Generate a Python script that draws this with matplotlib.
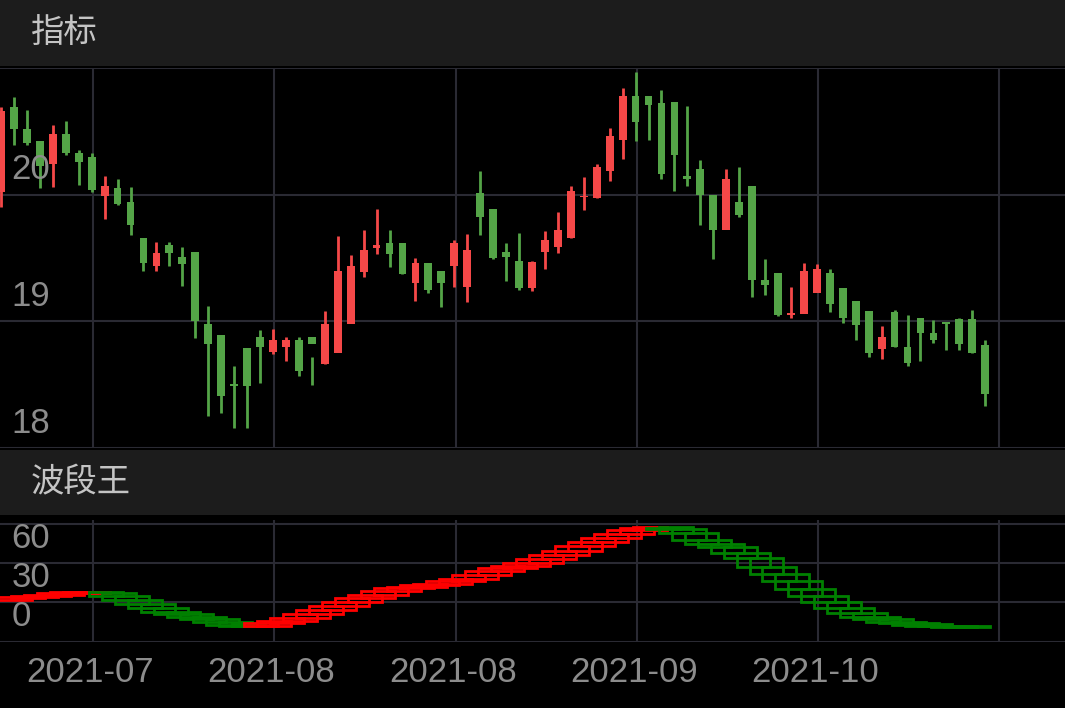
import matplotlib
matplotlib.use("Agg")
import matplotlib.pyplot as plt
from matplotlib.patches import Rectangle
from matplotlib.transforms import blended_transform_factory

# candle data (open, high, low, close)
opens  = [20.02,20.69,20.52,20.42,20.24,20.48,20.33,20.30,19.99,20.05,19.94,19.66,19.44,19.60,19.51,19.55,18.98,18.89,18.50,18.79,18.88,18.76,18.80,18.85,18.88,18.66,18.75,18.98,19.39,19.58,19.62,19.62,19.30,19.46,19.40,19.44,19.27,20.01,19.89,19.55,19.48,19.26,19.55,19.59,19.66,19.98,19.97,20.19,20.43,20.78,20.78,20.72,20.73,20.15,20.20,20.00,19.72,19.94,20.07,19.33,19.38,19.05,19.06,19.22,19.38,19.26,19.16,19.08,18.78,19.07,18.80,19.03,18.91,18.99,19.02,19.02,18.81]
closes = [20.66,20.52,20.41,20.23,20.48,20.33,20.26,20.04,20.07,19.93,19.76,19.46,19.54,19.54,19.45,19.00,18.82,18.41,18.49,18.49,18.80,18.85,18.85,18.61,18.82,18.98,19.40,19.44,19.56,19.60,19.53,19.37,19.46,19.25,19.30,19.62,19.56,19.82,19.50,19.51,19.26,19.47,19.64,19.72,20.03,19.99,20.22,20.46,20.78,20.57,20.71,20.16,20.31,20.12,20.00,19.72,20.12,19.84,19.33,19.29,19.05,19.06,19.40,19.41,19.14,19.03,18.97,18.75,18.88,18.80,18.67,18.91,18.85,18.98,18.82,18.75,18.43]
highs  = [20.69,20.77,20.67,20.42,20.55,20.58,20.35,20.33,20.15,20.12,20.06,19.66,19.63,19.63,19.59,19.47,19.12,18.79,18.65,18.79,18.93,18.94,18.88,18.88,18.72,19.08,19.67,19.52,19.72,19.89,19.72,19.62,19.50,19.46,19.40,19.64,19.69,20.19,19.89,19.62,19.70,19.48,19.71,19.86,20.07,20.14,20.24,20.53,20.84,20.97,20.74,20.83,20.48,20.70,20.27,19.89,20.20,20.22,19.87,19.49,19.33,19.27,19.46,19.45,19.41,19.19,19.12,19.05,18.96,19.09,19.05,18.97,19.01,18.99,19.03,19.09,18.85]
lows   = [19.90,20.39,20.39,20.05,20.06,20.31,20.08,20.02,19.81,19.92,19.68,19.40,19.40,19.44,19.28,18.87,18.25,18.28,18.16,18.16,18.51,18.74,18.69,18.57,18.50,18.66,18.98,19.29,19.35,19.53,19.43,19.37,19.16,19.22,19.11,19.27,19.15,19.68,19.49,19.32,19.25,19.24,19.41,19.54,19.66,19.88,19.97,20.11,20.28,20.42,20.43,20.12,20.03,20.07,19.76,19.49,19.82,19.82,19.19,19.21,19.04,19.03,19.10,19.26,19.07,18.99,18.85,18.72,18.70,18.80,18.65,18.69,18.83,18.77,18.77,18.75,18.33]

# wave indicator value per candle
wave = [32,33,34,35,36,37,38,38,37,35,32,29,26,23,21,19,17,15,13,12,12,14,16,18,21,24,27,30,33,36,39,41,42,43,44,46,48,51,54,56,58,60,63,66,69,73,76,79,82,85,87,88,86,83,78,75,72,68,64,57,52,46,40,35,30,26,22,19,17,15,14,13,12,12,11,11,11]

tick_pos = [7.1, 21.1, 35.1, 49.1, 63.1, 77.1]
tick_labels = ["2021-07", "2021-08", "2021-08", "2021-09", "2021-10", ""]
top_yticks = [18, 19, 20, 21]
top_ylabels = ["18", "19", "20", ""]
bot_yticks = [0, 30, 60, 90]
bot_ylabels = ["0", "30", "60", ""]

UP = "#f54848"
DN = "#54a447"
GRID = "#2a2a33"
TXT = "#8c8c8c"

W, H = 1065, 708
fig = plt.figure(figsize=(W/100, H/100), dpi=100, facecolor="black")

def fr(top, bottom):
    return (H-bottom)/H, (bottom-top)/H

# header bars
for top, bot, title in [(0, 66, "指标"), (450, 515, "波段王")]:
    b, h = fr(top, bot)
    hax = fig.add_axes([0, b, 1, h])
    hax.set_facecolor("#1c1c1c")
    hax.set_xticks([]); hax.set_yticks([])
    for s in hax.spines.values():
        s.set_visible(False)
    hax.text(0.029, 0.5, title, transform=hax.transAxes, va="center", ha="left",
             fontsize=24, color="#c4c4c4", family=["Noto Sans CJK SC", "DejaVu Sans"])

xlim = (-0.08, 82.16)
b, h = fr(68, 448)
ax = fig.add_axes([0, b, 1, h])
b2, h2 = fr(520, 642)
ax2 = fig.add_axes([0, b2, 1, h2])

for a in (ax, ax2):
    a.set_facecolor("black")
    a.set_xlim(*xlim)
    a.set_xticks(tick_pos)
    a.grid(True, color=GRID, lw=1.5)
    a.tick_params(length=0, labelleft=False, labelbottom=False)
    for s in a.spines.values():
        s.set_visible(False)

ax.set_ylim(18, 21)
ax.set_yticks(top_yticks)
ax2.set_ylim(-0.3, 93)
ax2.set_yticks(bot_yticks)

# candles
for i in range(len(opens)):
    o, c, hi, lo = opens[i], closes[i], highs[i], lows[i]
    col = UP if c >= o else DN
    ax.vlines(i, lo, hi, color=col, lw=2, zorder=3)
    bh = max(abs(c - o), 0.012)
    ax.add_patch(Rectangle((i - 0.3, min(o, c)), 0.6, bh, color=col, lw=0, zorder=3))

# wave boxes
n = len(wave)
for i in range(1, n - 1):
    y0, y1 = wave[i - 1], wave[i + 1]
    if i < 8:
        col = "#ff0000"
    elif i < 20:
        col = "#008000"
    elif i < 51:
        col = "#ff0000"
    else:
        col = "#008000"
    ax2.add_patch(Rectangle((i - 1.2, min(y0, y1)), 2.6, max(abs(y1 - y0), 1.2),
                            fill=False, ec=col, lw=2, zorder=3))

# y labels
for a, ticks, labs in [(ax, top_yticks, top_ylabels), (ax2, bot_yticks, bot_ylabels)]:
    tr = blended_transform_factory(a.transAxes, a.transData)
    for t, l in zip(ticks, labs):
        if l:
            a.annotate(l, (0.011, t), xycoords=tr, xytext=(0, 6), textcoords="offset points",
                       ha="left", va="bottom", fontsize=25, color=TXT, family="Liberation Sans",
                       zorder=5)

# x labels
for p, l in zip(tick_pos, tick_labels):
    if l:
        ax2.annotate(l, (p, 0), xycoords=("data", "axes fraction"), xytext=(-2, -22),
                     textcoords="offset points", ha="center", va="center",
                     fontsize=25, color=TXT, family="Liberation Sans", annotation_clip=False)

fig.savefig("out.png", dpi=100, facecolor="black")
